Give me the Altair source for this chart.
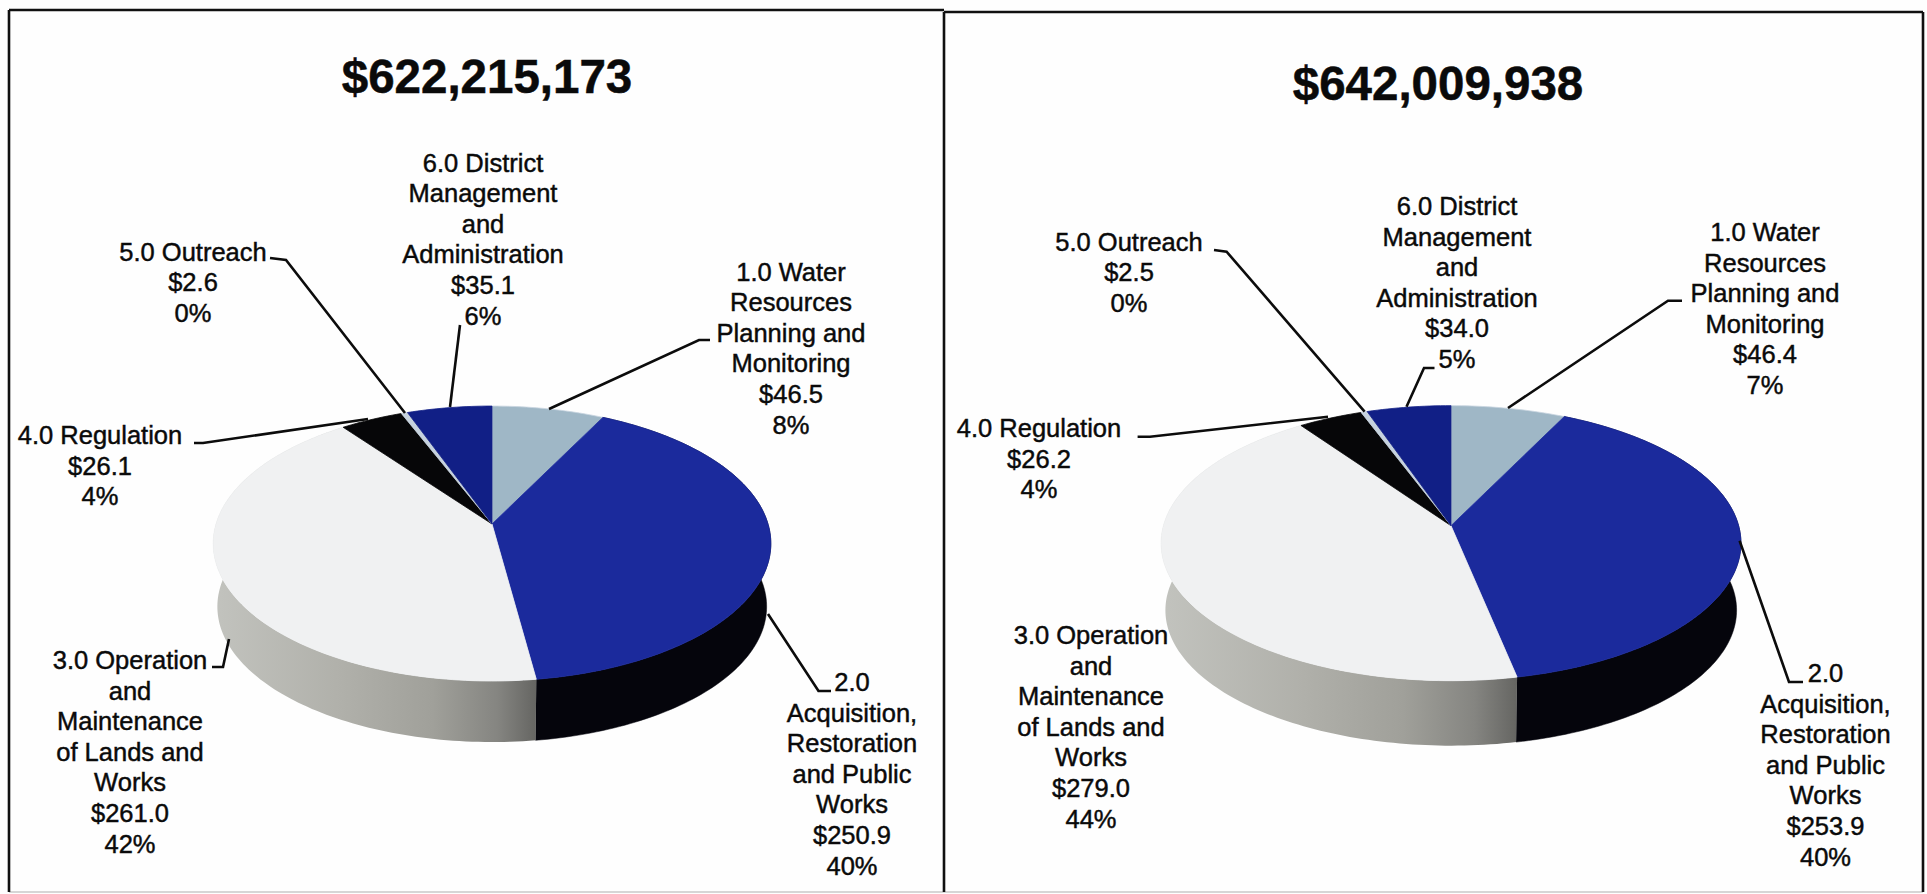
import math
import altair as alt
import pandas as pd

# Budget categories, broken over lines the way they are set on the chart
categories = ["1.0 Water", "2.0", "3.0 Operation", "4.0 Regulation", "5.0 Outreach", "6.0 District"]
category_lines = [
    "1.0 Water\nResources\nPlanning and\nMonitoring",
    "2.0\nAcquisition,\nRestoration\nand Public\nWorks",
    "3.0 Operation\nand\nMaintenance\nof Lands and\nWorks",
    "4.0 Regulation",
    "5.0 Outreach",
    "6.0 District\nManagement\nand\nAdministration",
]
slice_colors = ["#9fb7c6", "#1b2a9c", "#f0f1f2", "#060608", "#c6d2de", "#111f86"]
slice_edges = ["#c8d4e0", "#1b2a9c", "#f0f1f2", "#060608", "#c6d2de", "#111f86"]

# Millions of dollars and the printed shares for each budget
left_title = "$622,215,173"
left_values = [46.5, 250.9, 261.0, 26.1, 2.6, 35.1]
left_shares = [8, 40, 42, 4, 0, 6]
right_title = "$642,009,938"
right_values = [46.4, 253.9, 279.0, 26.2, 2.5, 34.0]
right_shares = [7, 40, 44, 4, 0, 5]

FONT = "Liberation Sans"
HEIGHT = 892

# Page placement of each panel: frame, pie geometry, title, labels and leader lines
left_layout = dict(
    frame=(8, 943, 10, 892),
    apex=(491, 524), half_width=276, half_height=134.7, tilt=0.142, depth=63.4, base_scale=0.985,
    title=(486, 79),
    labels=[(790, 271.7), (851, 682), (129, 660), (99, 435), (192, 251.7), (482, 162.7)],
    leaders=[
        [(548, 409), (698, 340), (709, 340)],
        [(767, 614), (817.5, 691), (830, 691)],
        [(211, 667), (222, 667), (228, 639)],
        [(193, 443), (202, 443), (367, 419)],
        [(404, 413), (285, 260), (269, 258)],
        [(449, 407), (459, 325)],
    ],
)
right_layout = dict(
    frame=(943, 1922, 12, 892),
    apex=(1450, 525.7), half_width=287.6, half_height=135.3, tilt=0.127, depth=67.3, base_scale=0.985,
    title=(1437, 86),
    labels=[(1764, 232), (1824.5, 673), (1090, 635), (1038, 428), (1128, 241.7), (1456, 206)],
    leaders=[
        [(1507, 408), (1667, 300.7), (1681, 300.7)],
        [(1738.6, 540.7), (1788, 682), (1802, 682)],
        [(1136.6, 436.7), (1149, 436.7), (1327, 416.7)],
        [(1363.6, 411.7), (1225.6, 251.7), (1213, 250)],
        [(1405.5, 406.7), (1423, 368), (1433.5, 368)],
    ],
)


def rim_point(turn, geo, origin_x, base=False):
    """Project a point on the pie's rim (turn is clockwise from 12 o'clock) with perspective."""
    px, py = math.sin(turn), -math.cos(turn)
    w = 1 - geo["tilt"] * py
    scale = geo["base_scale"] if base else 1.0
    drop = geo["depth"] if base else 0.0
    return [
        round(geo["apex"][0] - origin_x + scale * geo["half_width"] * px / w, 2),
        round(geo["apex"][1] + drop + scale * geo["half_height"] * py / w, 2),
    ]


def slice_turns(values):
    total = sum(values)
    spans, start = [], 0.0
    for v in values:
        end = start + v / total * 2 * math.pi
        spans.append((start, end))
        start = end
    return spans


def feature(ring, name):
    ring = ring + [ring[0]]
    return {"type": "Feature", "properties": {"name": name},
            "geometry": {"type": "Polygon", "coordinates": [ring]}}


def arc(start, end):
    steps = max(2, int((end - start) / 0.02))
    return [start + (end - start) * i / steps for i in range(steps + 1)]


def panel(title, values, shares, geo, width, draw_right_edge):
    left, right, top, bottom = geo["frame"]
    origin = left
    identity = dict(type="identity", scale=1, translate=[0, 0])
    x_scale = alt.Scale(domain=[0, width], range=[0, width])
    y_scale = alt.Scale(domain=[0, HEIGHT], range=[0, HEIGHT])
    spans = slice_turns(values)
    apex_local = [geo["apex"][0] - origin, geo["apex"][1]]

    # Side wall of each slice, drawn under the top surface
    walls = []
    for (a, b), name in zip(spans, categories):
        ts = arc(a, b)
        ring = [rim_point(t, geo, origin) for t in ts] + [rim_point(t, geo, origin, base=True) for t in reversed(ts)]
        walls.append(feature(ring, name))
    grey_fill = alt.LinearGradient(
        gradient="linear", x1=0, x2=1, y1=0, y2=0,
        stops=[
            alt.GradientStop(color="#c2c3be", offset=0),
            alt.GradientStop(color="#b0b0aa", offset=0.4),
            alt.GradientStop(color="#a0a09a", offset=0.68),
            alt.GradientStop(color="#858581", offset=0.88),
            alt.GradientStop(color="#656562", offset=1),
        ],
    )
    wall_dark = alt.Chart(alt.Data(values=[walls[1]])).mark_geoshape(
        fill="#05050c", stroke="#05050c", strokeWidth=0.5).project(**identity)
    wall_grey = alt.Chart(alt.Data(values=[walls[2]])).mark_geoshape(
        fill=grey_fill, strokeWidth=0).project(**identity)

    # Top surface
    tops = []
    for (a, b), name in zip(spans, categories):
        ring = [apex_local] + [rim_point(t, geo, origin) for t in arc(a, b)]
        tops.append(feature(ring, name))
    top_surface = alt.Chart(alt.Data(values=tops)).mark_geoshape(strokeWidth=0.8).encode(
        color=alt.Color("properties.name:N",
                        scale=alt.Scale(domain=categories, range=slice_colors), legend=None),
        stroke=alt.Stroke("properties.name:N",
                          scale=alt.Scale(domain=categories, range=slice_edges), legend=None),
    ).project(**identity)

    # Frame round the panel; the lower edge is faint
    frame_rows = [
        {"x": left - origin, "x2": left - origin, "y": top, "y2": bottom},
        {"x": left - origin, "x2": right - origin, "y": top, "y2": top},
    ]
    if draw_right_edge:
        frame_rows.append({"x": right - origin, "x2": right - origin, "y": top, "y2": bottom})
    frame = alt.Chart(pd.DataFrame(frame_rows)).mark_rule(color="#101010", strokeWidth=2.6).encode(
        x=alt.X("x:Q", scale=x_scale, axis=None), x2="x2:Q",
        y=alt.Y("y:Q", scale=y_scale, axis=None), y2="y2:Q",
    )
    lower_edge = alt.Chart(pd.DataFrame([{"x": left - origin, "x2": right - origin, "y": bottom}])).mark_rule(
        color="#c8c8c8", strokeWidth=1.5
    ).encode(
        x=alt.X("x:Q", scale=x_scale, axis=None), x2="x2:Q",
        y=alt.Y("y:Q", scale=y_scale, axis=None),
    )

    # Leader lines from slices to labels
    leader_rows = [
        {"leader": i, "step": j, "x": px - origin, "y": py}
        for i, path in enumerate(geo["leaders"]) for j, (px, py) in enumerate(path)
    ]
    leaders = alt.Chart(pd.DataFrame(leader_rows)).mark_line(color="#0c0c0c", strokeWidth=2.6).encode(
        x=alt.X("x:Q", scale=x_scale, axis=None),
        y=alt.Y("y:Q", scale=y_scale, axis=None),
        detail="leader:N",
        order="step:Q",
    )

    # Slice labels: name, dollars, share
    label_rows = [
        {"text": f"{lines}\n${v:.1f}\n{s}%", "x": lx - origin, "y": ly - 11}
        for lines, v, s, (lx, ly) in zip(category_lines, values, shares, geo["labels"])
    ]
    labels = alt.Chart(pd.DataFrame(label_rows)).mark_text(
        font=FONT, fontSize=25.5, lineHeight=30.6, lineBreak="\n", align="center", baseline="top",
        color="#0a0a0a", stroke="#0a0a0a", strokeWidth=0.45,
    ).encode(
        x=alt.X("x:Q", scale=x_scale, axis=None),
        y=alt.Y("y:Q", scale=y_scale, axis=None),
        text="text:N",
    )

    heading = alt.Chart(pd.DataFrame([{"text": title, "x": geo["title"][0] - origin, "y": geo["title"][1]}])).mark_text(
        font=FONT, fontSize=47.5, fontWeight="bold", align="center", baseline="middle",
        color="#0a0a0a", stroke="#0a0a0a", strokeWidth=0.5,
    ).encode(
        x=alt.X("x:Q", scale=x_scale, axis=None),
        y=alt.Y("y:Q", scale=y_scale, axis=None),
        text="text:N",
    )

    return alt.layer(wall_dark, wall_grey, top_surface, lower_edge, frame, leaders, labels, heading).properties(
        width=width, height=HEIGHT
    )


chart = alt.hconcat(
    panel(left_title, left_values, left_shares, left_layout, 935, False),
    panel(right_title, right_values, right_shares, right_layout, 982, True),
    spacing=0,
    bounds="flush",
).properties(
    padding={"left": 7, "top": 0, "right": 0, "bottom": 0},
    background="#fefefe",
).resolve_scale(color="independent", stroke="independent").configure_view(stroke=None)

chart.save("out.html", embed_options={"renderer": "svg", "actions": False})
